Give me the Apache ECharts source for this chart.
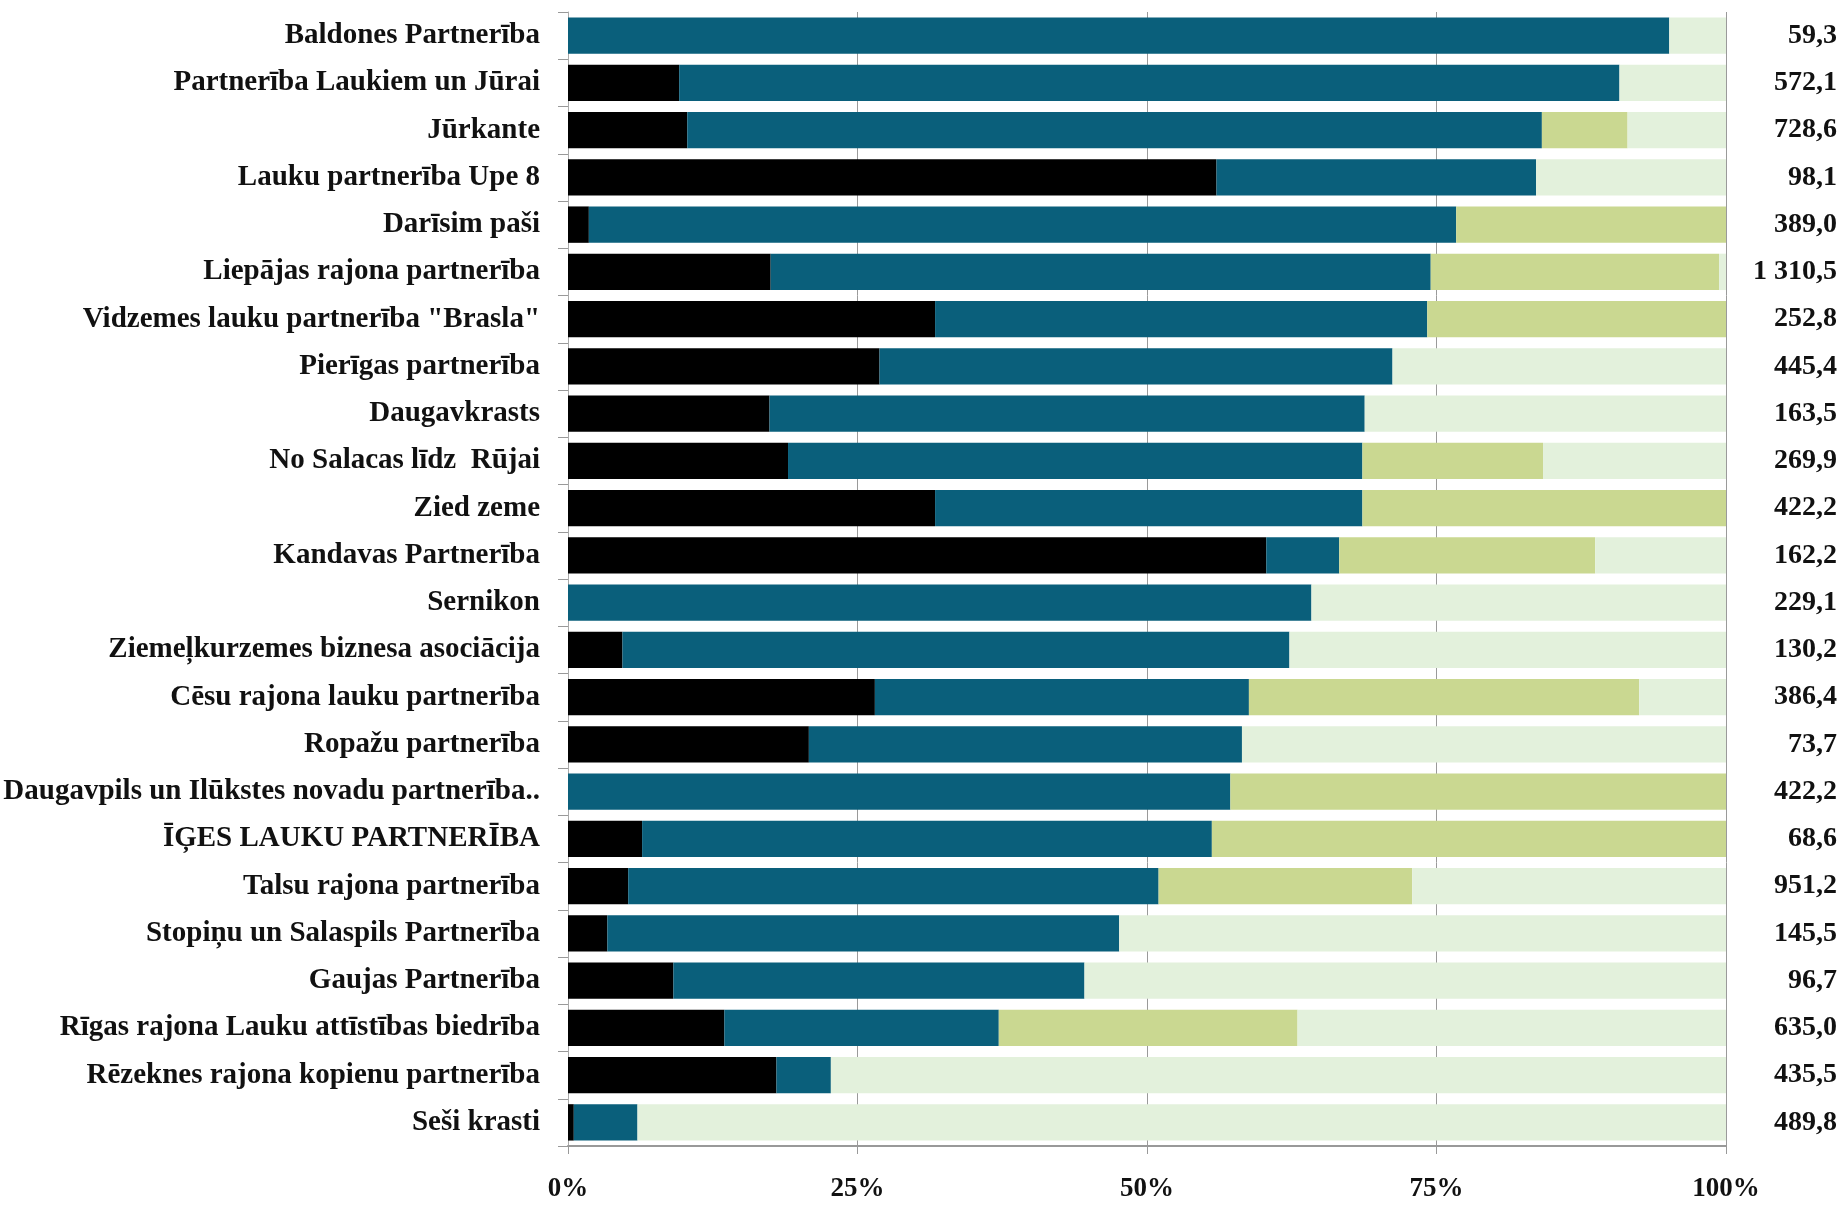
<!DOCTYPE html>
<html>
<head>
<meta charset="utf-8">
<script src="https://cdn.jsdelivr.net/npm/echarts@6/dist/echarts.min.js"></script>
<style>
html,body{margin:0;padding:0;background:#fff;}
#chart{width:1843px;height:1205px;}
</style>
</head>
<body>
<div id="chart"></div>
<script>
const categories = [
  "Baldones Partnerība",
  "Partnerība Laukiem un Jūrai",
  "Jūrkante",
  "Lauku partnerība Upe 8",
  "Darīsim paši",
  "Liepājas rajona partnerība",
  "Vidzemes lauku partnerība \"Brasla\"",
  "Pierīgas partnerība",
  "Daugavkrasts",
  "No Salacas līdz  Rūjai",
  "Zied zeme",
  "Kandavas Partnerība",
  "Sernikon",
  "Ziemeļkurzemes biznesa asociācija",
  "Cēsu rajona lauku partnerība",
  "Ropažu partnerība",
  "Daugavpils un Ilūkstes novadu partnerība..",
  "ĪĢES LAUKU PARTNERĪBA",
  "Talsu rajona partnerība",
  "Stopiņu un Salaspils Partnerība",
  "Gaujas Partnerība",
  "Rīgas rajona Lauku attīstības biedrība",
  "Rēzeknes rajona kopienu partnerība",
  "Seši krasti"
];
const seriesBlack = [0, 9.6, 10.3, 56.0, 1.8, 17.5, 31.7, 26.9, 17.4, 19.0, 31.7, 60.3, 0, 4.7, 26.5, 20.8, 0, 6.4, 5.2, 3.4, 9.1, 13.5, 18.0, 0.5];
const seriesTeal  = [95.1, 81.2, 73.8, 27.6, 74.9, 57.0, 42.5, 44.3, 51.4, 49.6, 36.9, 6.3, 64.2, 57.6, 32.3, 37.4, 57.2, 49.2, 45.8, 44.2, 35.5, 23.7, 4.7, 5.5];
const seriesGreen = [0, 0, 7.4, 0, 23.3, 24.9, 25.8, 0, 0, 15.6, 31.4, 22.1, 0, 0, 33.7, 0, 42.8, 44.4, 21.9, 0, 0, 25.8, 0, 0];
const seriesLight = [4.9, 9.2, 8.5, 16.4, 0, 0.6, 0, 28.8, 31.2, 15.8, 0, 11.3, 35.8, 37.7, 7.5, 41.8, 0, 0, 27.1, 52.4, 55.4, 37.0, 77.3, 94.0];
const totals = [59.3, 572.1, 728.6, 98.1, 389.0, 1310.5, 252.8, 445.4, 163.5, 269.9, 422.2, 162.2, 229.1, 130.2, 386.4, 73.7, 422.2, 68.6, 951.2, 145.5, 96.7, 635.0, 435.5, 489.8];
const xTicks = [0, 25, 50, 75, 100];

function fmt(v) {
  const parts = v.toFixed(1).split('.');
  const intPart = parts[0].replace(/\B(?=(\d{3})+(?!\d))/g, ' ');
  return intPart + ',' + parts[1];
}

const FONT = 'Liberation Serif';
const chart = echarts.init(document.getElementById('chart'));
function bar(name, data, color) {
  return {
    name: name, type: 'bar', stack: 'total', data: data,
    barCategoryGap: '23%',
    itemStyle: { color: color },
    emphasis: { disabled: true }
  };
}
chart.setOption({
  animation: false,
  backgroundColor: '#ffffff',
  grid: { left: 568, right: 117, top: 12, bottom: 59, containLabel: false },
  xAxis: {
    type: 'value', min: xTicks[0], max: xTicks[xTicks.length - 1], interval: 25,
    axisLine: { show: true, lineStyle: { color: '#999999', width: 2 } },
    axisTick: { show: true, length: 8, lineStyle: { color: '#999999' } },
    splitLine: { show: true, lineStyle: { color: '#9a9a9a', width: 1 } },
    axisLabel: {
      formatter: '{value}%', margin: 30,
      fontFamily: FONT, fontWeight: 'bold', fontSize: 27, color: '#111'
    }
  },
  yAxis: [
    {
      type: 'category', data: categories, inverse: true,
      axisLine: { show: true, lineStyle: { color: '#aaaaaa', width: 1 } },
      axisTick: { show: true, length: 10, lineStyle: { color: '#999999' } },
      axisLabel: {
        margin: 28, fontFamily: FONT, fontWeight: 'bold', fontSize: 29, color: '#111'
      }
    },
    {
      type: 'category', data: totals.map(fmt), inverse: true, position: 'right',
      axisLine: { show: false }, axisTick: { show: false },
      axisLabel: {
        margin: 111, align: 'right',
        fontFamily: FONT, fontWeight: 'bold', fontSize: 28, color: '#111'
      }
    }
  ],
  series: [
    bar('black', seriesBlack, '#000000'),
    bar('teal', seriesTeal, '#0A5F7B'),
    bar('green', seriesGreen, '#CAD891'),
    bar('light', seriesLight, '#E3F1DC')
  ]
});
</script>
</body>
</html>
